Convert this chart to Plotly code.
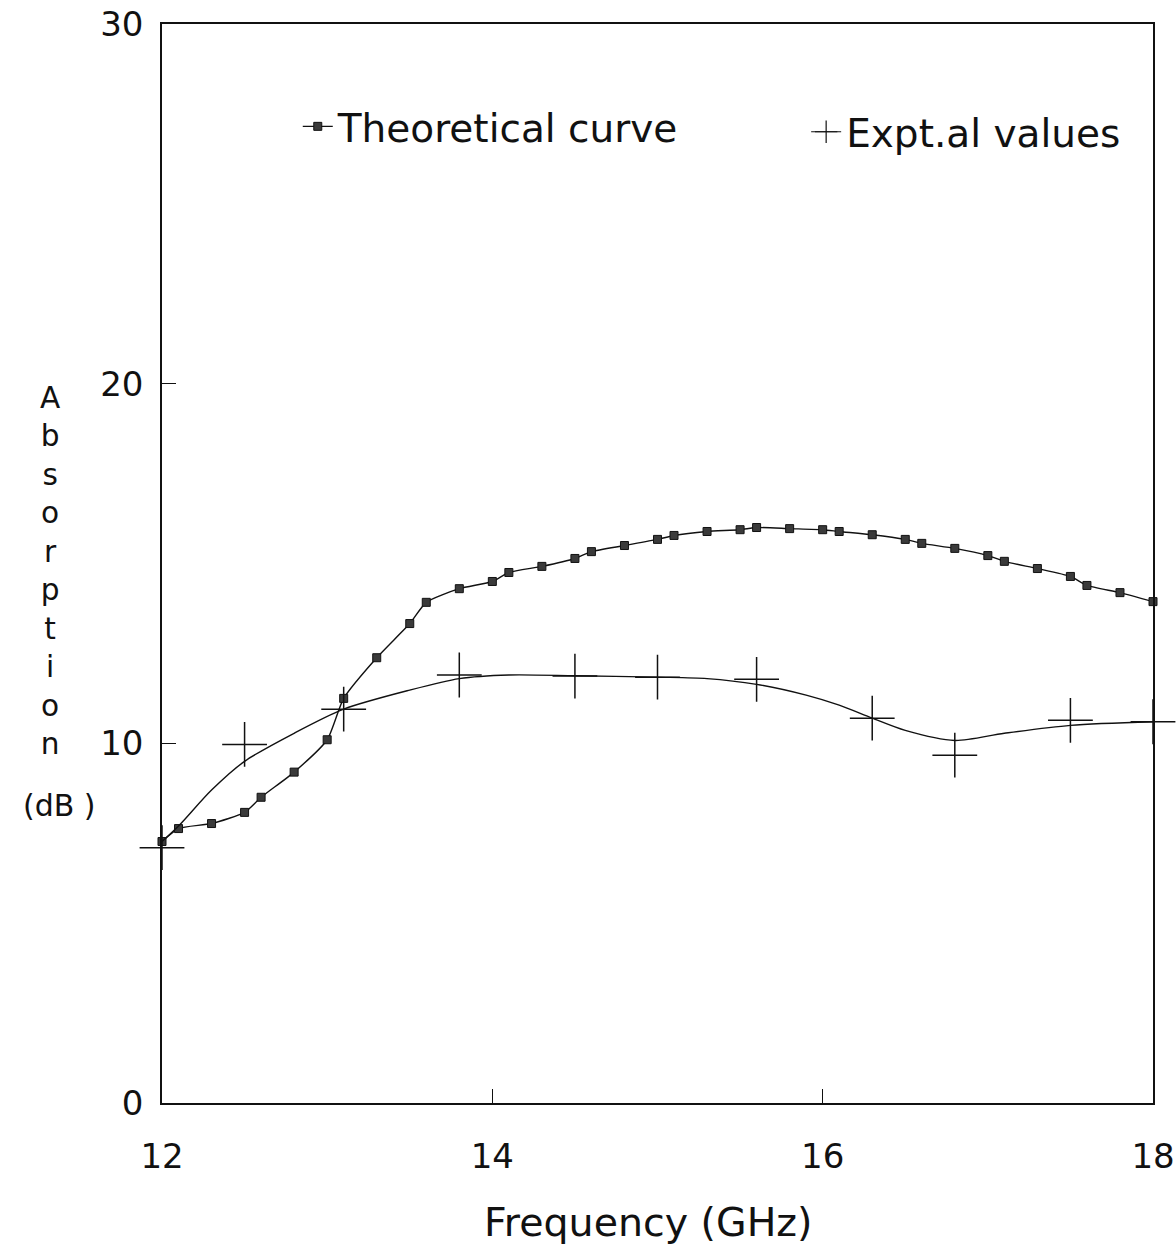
import plotly.graph_objects as go

# Theoretical curve
theo_x = [12.0, 12.1, 12.3, 12.5, 12.6, 12.8, 13.0, 13.1, 13.3, 13.5, 13.6, 13.8,
          14.0, 14.1, 14.3, 14.5, 14.6, 14.8, 15.0, 15.1, 15.3, 15.5, 15.6, 15.8,
          16.0, 16.1, 16.3, 16.5, 16.6, 16.8, 17.0, 17.1, 17.3, 17.5, 17.6, 17.8, 18.0]
theo_y = [7.27, 7.63, 7.77, 8.08, 8.5, 9.2, 10.1, 11.25, 12.38, 13.33, 13.92, 14.3,
          14.5, 14.75, 14.92, 15.14, 15.33, 15.5, 15.67, 15.78, 15.89, 15.94, 16.0, 15.97,
          15.94, 15.89, 15.8, 15.67, 15.56, 15.42, 15.22, 15.06, 14.86, 14.64, 14.39, 14.19, 13.94]

# Experimental values (crosses)
exp_x = [12.0, 12.5, 13.1, 13.8, 14.5, 15.0, 15.6, 16.3, 16.8, 17.5, 18.0]
exp_y = [7.1, 9.97, 10.95, 11.9, 11.87, 11.84, 11.78, 10.7, 9.67, 10.64, 10.6]

fit_x = [12.0, 12.1, 12.3, 12.5, 12.8, 13.1, 13.5, 13.8, 14.1, 14.5, 15.0, 15.3,
         15.6, 15.9, 16.1, 16.3, 16.5, 16.8, 17.1, 17.5, 18.0]
fit_y = [7.27, 7.7, 8.7, 9.5, 10.28, 10.95, 11.48, 11.8, 11.9, 11.88, 11.84, 11.8,
         11.64, 11.34, 11.06, 10.7, 10.36, 10.08, 10.28, 10.5, 10.6]

x_ticks = [12, 14, 16, 18]
y_ticks = [0, 10, 20, 30]
ylabel_letters = ["A", "b", "s", "o", "r", "p", "t", "i", "o", "n"]

FONT = "DejaVu Sans"
INK = "#111111"

fig = go.Figure()

fig.add_trace(go.Scatter(
    x=theo_x, y=theo_y, mode="lines+markers", name="Theoretical curve",
    line=dict(color=INK, width=1.4, shape="spline", smoothing=0.6),
    marker=dict(symbol="square", size=8, color="#3a3a3a", line=dict(color=INK, width=1)),
    cliponaxis=False, legend="legend",
))

fig.add_trace(go.Scatter(
    x=fit_x, y=fit_y, mode="lines", showlegend=False,
    line=dict(color=INK, width=1.4, shape="spline", smoothing=0.8),
    cliponaxis=False,
))

fig.add_trace(go.Scatter(
    x=exp_x, y=exp_y, mode="markers", showlegend=False,
    marker=dict(symbol="cross-thin", size=32, color=INK, line=dict(color=INK, width=1.5)),
    cliponaxis=False,
))

# legend proxy for experimental values
fig.add_trace(go.Scatter(
    x=[None], y=[None], mode="lines+markers", name="Expt.al values",
    line=dict(color=INK, width=1.2),
    marker=dict(symbol="cross-thin", size=16, color=INK, line=dict(color=INK, width=1.2)),
    legend="legend2",
))

fig.update_layout(
    width=1176, height=1250,
    margin=dict(l=162, r=23, t=24, b=147),
    paper_bgcolor="white", plot_bgcolor="white",
    font=dict(family=FONT, color=INK),
    legend=dict(x=0.137, y=0.905, xanchor="left", yanchor="middle",
                bgcolor="rgba(0,0,0,0)", font=dict(size=39, family=FONT, color=INK)),
    legend2=dict(x=0.650, y=0.900, xanchor="left", yanchor="middle",
                 bgcolor="rgba(0,0,0,0)", font=dict(size=39, family=FONT, color=INK)),
    xaxis=dict(range=[12, 18], tickvals=x_ticks, ticktext=[str(v) for v in x_ticks],
               showgrid=False, zeroline=False, showline=True, linecolor=INK, linewidth=1.5,
               mirror=True, ticks="inside", ticklen=14, tickwidth=1.2, tickcolor=INK,
               tickfont=dict(size=34, family=FONT, color=INK), ticklabelstandoff=22,
               automargin=False),
    yaxis=dict(range=[0, 30], tickvals=y_ticks, ticktext=[str(v) for v in y_ticks],
               showgrid=False, zeroline=False, showline=True, linecolor=INK, linewidth=1.5,
               mirror=True, ticks="inside", ticklen=14, tickwidth=1.2, tickcolor=INK,
               tickfont=dict(size=34, family=FONT, color=INK), ticklabelstandoff=10,
               automargin=False),
)

fig.add_annotation(
    text="<br>".join(ylabel_letters), xref="paper", yref="paper",
    x=-0.113, y=0.4926, xanchor="center", yanchor="middle", showarrow=False,
    font=dict(size=29.6, family=FONT, color=INK), align="center",
)
fig.add_annotation(
    text="(dB )", xref="paper", yref="paper", x=-0.103, y=0.276,
    xanchor="center", yanchor="middle", showarrow=False,
    font=dict(size=30, family=FONT, color=INK),
)
fig.add_annotation(
    text="Frequency (GHz)", xref="paper", yref="paper", x=0.49, y=-0.110,
    xanchor="center", yanchor="middle", showarrow=False,
    font=dict(size=39.5, family=FONT, color=INK),
)

fig.write_html("out.html")
